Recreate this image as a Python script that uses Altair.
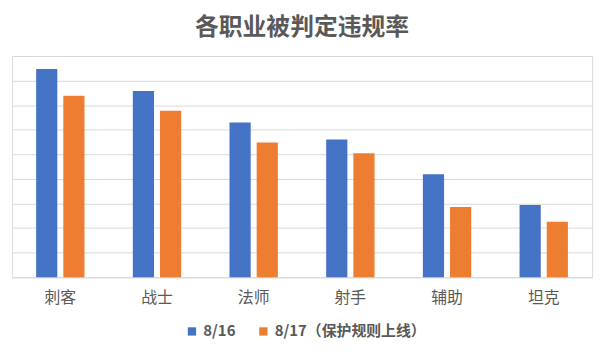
import altair as alt
import pandas as pd

categories = ["刺客", "战士", "法师", "射手", "辅助", "坦克"]
series = ["8/16", "8/17（保护规则上线）"]
values_816 = [8.47, 7.58, 6.29, 5.6, 4.19, 2.94]
values_817 = [7.38, 6.77, 5.48, 5.04, 2.86, 2.26]
grid_values = [0, 1, 2, 3, 4, 5, 6, 7, 8, 9]

rows = []
for c, v in zip(categories, values_816):
    rows.append({"职业": c, "日期": series[0], "值": v})
for c, v in zip(categories, values_817):
    rows.append({"职业": c, "日期": series[1], "值": v})
df = pd.DataFrame(rows)

FONT = "Noto Sans CJK SC"
GREY = "#595959"

chart = alt.Chart(df).mark_bar().encode(
    x=alt.X("职业:N", sort=categories,
            scale=alt.Scale(paddingInner=0.5, paddingOuter=0.25),
            axis=alt.Axis(title=None, labelAngle=0, labelFontSize=16, labelColor=GREY,
                          labelFont=FONT, labelPadding=13, ticks=False, domain=True,
                          domainColor="#d9d9d9", domainWidth=1)),
    xOffset=alt.XOffset("日期:N", sort=series, scale=alt.Scale(paddingInner=0.22)),
    y=alt.Y("值:Q", scale=alt.Scale(domain=[0, 9], nice=False),
            axis=alt.Axis(title=None, labels=False, ticks=False, domain=False,
                          values=grid_values, gridColor="#d9d9d9", gridWidth=1)),
    color=alt.Color("日期:N", sort=series,
                    scale=alt.Scale(domain=series, range=["#4472C4", "#ED7D31"]),
                    legend=alt.Legend(title=None, orient="none", direction="horizontal",
                                      legendX=174, legendY=270,
                                      symbolType="square", symbolSize=70, symbolStrokeWidth=0,
                                      labelFontSize=15, labelFontWeight="bold", labelColor=GREY,
                                      labelFont=FONT, columnPadding=20,
                                      labelLimit=300)),
).properties(
    width=585,
    height=223,
    title=alt.TitleParams("各职业被判定违规率", fontSize=24, fontWeight="bold", color=GREY,
                          font=FONT, anchor="middle", offset=16),
    padding={"left": 4, "top": 47, "right": 10, "bottom": 70},
    autosize=alt.AutoSizeParams(type="none"),
).configure_view(stroke=None).configure(background="white")

chart.save("out.html", embed_options={"renderer": "svg", "actions": False})
